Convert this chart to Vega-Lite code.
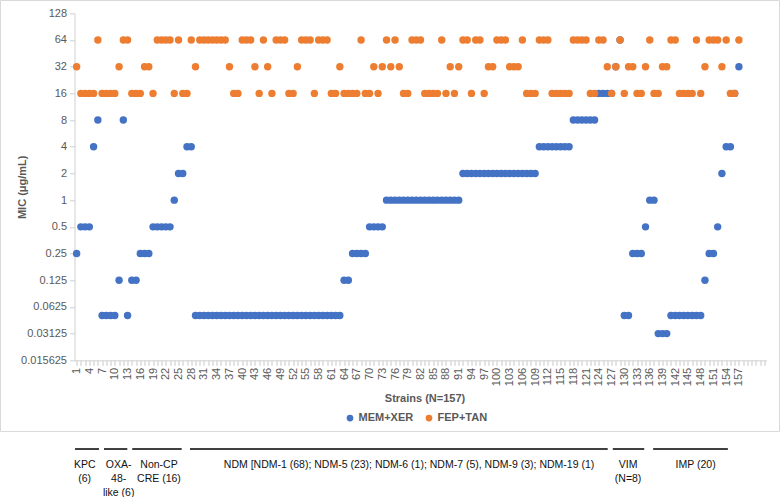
{
  "$schema": "https://vega.github.io/schema/vega-lite/v6.json",
  "width": 692,
  "height": 347,
  "autosize": {"type": "none"},
  "padding": {"left": 74.5, "top": 13.3, "right": 14.5, "bottom": 136.7},
  "background": "white",
  "config": {"view": {"stroke": null}, "font": "Liberation Sans"},
  "datasets": {
    "mic": [
      {"strain":1,"MEM+XER":0.25,"FEP+TAN":32},{"strain":2,"MEM+XER":0.5,"FEP+TAN":16},{"strain":3,"MEM+XER":0.5,"FEP+TAN":16},{"strain":4,"MEM+XER":0.5,"FEP+TAN":16},{"strain":5,"MEM+XER":4,"FEP+TAN":16},{"strain":6,"MEM+XER":8,"FEP+TAN":64},
      {"strain":7,"MEM+XER":0.05,"FEP+TAN":16},{"strain":8,"MEM+XER":0.05,"FEP+TAN":16},{"strain":9,"MEM+XER":0.05,"FEP+TAN":16},{"strain":10,"MEM+XER":0.05,"FEP+TAN":16},{"strain":11,"MEM+XER":0.125,"FEP+TAN":32},{"strain":12,"MEM+XER":8,"FEP+TAN":64},
      {"strain":13,"MEM+XER":0.05,"FEP+TAN":64},{"strain":14,"MEM+XER":0.125,"FEP+TAN":16},{"strain":15,"MEM+XER":0.125,"FEP+TAN":16},{"strain":16,"MEM+XER":0.25,"FEP+TAN":16},{"strain":17,"MEM+XER":0.25,"FEP+TAN":32},{"strain":18,"MEM+XER":0.25,"FEP+TAN":32},
      {"strain":19,"MEM+XER":0.5,"FEP+TAN":16},{"strain":20,"MEM+XER":0.5,"FEP+TAN":64},{"strain":21,"MEM+XER":0.5,"FEP+TAN":64},{"strain":22,"MEM+XER":0.5,"FEP+TAN":64},{"strain":23,"MEM+XER":0.5,"FEP+TAN":64},{"strain":24,"MEM+XER":1,"FEP+TAN":16},
      {"strain":25,"MEM+XER":2,"FEP+TAN":64},{"strain":26,"MEM+XER":2,"FEP+TAN":16},{"strain":27,"MEM+XER":4,"FEP+TAN":16},{"strain":28,"MEM+XER":4,"FEP+TAN":64},
      {"strain":29,"MEM+XER":0.05,"FEP+TAN":32},{"strain":30,"MEM+XER":0.05,"FEP+TAN":64},{"strain":31,"MEM+XER":0.05,"FEP+TAN":64},{"strain":32,"MEM+XER":0.05,"FEP+TAN":64},{"strain":33,"MEM+XER":0.05,"FEP+TAN":64},{"strain":34,"MEM+XER":0.05,"FEP+TAN":64},
      {"strain":35,"MEM+XER":0.05,"FEP+TAN":64},{"strain":36,"MEM+XER":0.05,"FEP+TAN":64},{"strain":37,"MEM+XER":0.05,"FEP+TAN":32},{"strain":38,"MEM+XER":0.05,"FEP+TAN":16},{"strain":39,"MEM+XER":0.05,"FEP+TAN":16},{"strain":40,"MEM+XER":0.05,"FEP+TAN":64},
      {"strain":41,"MEM+XER":0.05,"FEP+TAN":64},{"strain":42,"MEM+XER":0.05,"FEP+TAN":64},{"strain":43,"MEM+XER":0.05,"FEP+TAN":32},{"strain":44,"MEM+XER":0.05,"FEP+TAN":16},{"strain":45,"MEM+XER":0.05,"FEP+TAN":64},{"strain":46,"MEM+XER":0.05,"FEP+TAN":32},
      {"strain":47,"MEM+XER":0.05,"FEP+TAN":16},{"strain":48,"MEM+XER":0.05,"FEP+TAN":64},{"strain":49,"MEM+XER":0.05,"FEP+TAN":64},{"strain":50,"MEM+XER":0.05,"FEP+TAN":64},{"strain":51,"MEM+XER":0.05,"FEP+TAN":16},{"strain":52,"MEM+XER":0.05,"FEP+TAN":16},
      {"strain":53,"MEM+XER":0.05,"FEP+TAN":32},{"strain":54,"MEM+XER":0.05,"FEP+TAN":64},{"strain":55,"MEM+XER":0.05,"FEP+TAN":64},{"strain":56,"MEM+XER":0.05,"FEP+TAN":64},{"strain":57,"MEM+XER":0.05,"FEP+TAN":16},{"strain":58,"MEM+XER":0.05,"FEP+TAN":64},
      {"strain":59,"MEM+XER":0.05,"FEP+TAN":64},{"strain":60,"MEM+XER":0.05,"FEP+TAN":64},{"strain":61,"MEM+XER":0.05,"FEP+TAN":16},{"strain":62,"MEM+XER":0.05,"FEP+TAN":16},{"strain":63,"MEM+XER":0.05,"FEP+TAN":32},{"strain":64,"MEM+XER":0.125,"FEP+TAN":16},
      {"strain":65,"MEM+XER":0.125,"FEP+TAN":16},{"strain":66,"MEM+XER":0.25,"FEP+TAN":16},{"strain":67,"MEM+XER":0.25,"FEP+TAN":16},{"strain":68,"MEM+XER":0.25,"FEP+TAN":64},{"strain":69,"MEM+XER":0.25,"FEP+TAN":16},{"strain":70,"MEM+XER":0.5,"FEP+TAN":16},
      {"strain":71,"MEM+XER":0.5,"FEP+TAN":32},{"strain":72,"MEM+XER":0.5,"FEP+TAN":16},{"strain":73,"MEM+XER":0.5,"FEP+TAN":32},{"strain":74,"MEM+XER":1,"FEP+TAN":64},{"strain":75,"MEM+XER":1,"FEP+TAN":32},{"strain":76,"MEM+XER":1,"FEP+TAN":64},
      {"strain":77,"MEM+XER":1,"FEP+TAN":32},{"strain":78,"MEM+XER":1,"FEP+TAN":16},{"strain":79,"MEM+XER":1,"FEP+TAN":16},{"strain":80,"MEM+XER":1,"FEP+TAN":64},{"strain":81,"MEM+XER":1,"FEP+TAN":64},{"strain":82,"MEM+XER":1,"FEP+TAN":64},
      {"strain":83,"MEM+XER":1,"FEP+TAN":16},{"strain":84,"MEM+XER":1,"FEP+TAN":16},{"strain":85,"MEM+XER":1,"FEP+TAN":16},{"strain":86,"MEM+XER":1,"FEP+TAN":16},{"strain":87,"MEM+XER":1,"FEP+TAN":64},{"strain":88,"MEM+XER":1,"FEP+TAN":16},
      {"strain":89,"MEM+XER":1,"FEP+TAN":32},{"strain":90,"MEM+XER":1,"FEP+TAN":16},{"strain":91,"MEM+XER":1,"FEP+TAN":32},{"strain":92,"MEM+XER":2,"FEP+TAN":64},{"strain":93,"MEM+XER":2,"FEP+TAN":64},{"strain":94,"MEM+XER":2,"FEP+TAN":16},
      {"strain":95,"MEM+XER":2,"FEP+TAN":64},{"strain":96,"MEM+XER":2,"FEP+TAN":64},{"strain":97,"MEM+XER":2,"FEP+TAN":16},{"strain":98,"MEM+XER":2,"FEP+TAN":32},{"strain":99,"MEM+XER":2,"FEP+TAN":32},{"strain":100,"MEM+XER":2,"FEP+TAN":64},
      {"strain":101,"MEM+XER":2,"FEP+TAN":64},{"strain":102,"MEM+XER":2,"FEP+TAN":64},{"strain":103,"MEM+XER":2,"FEP+TAN":32},{"strain":104,"MEM+XER":2,"FEP+TAN":32},{"strain":105,"MEM+XER":2,"FEP+TAN":32},{"strain":106,"MEM+XER":2,"FEP+TAN":64},
      {"strain":107,"MEM+XER":2,"FEP+TAN":16},{"strain":108,"MEM+XER":2,"FEP+TAN":16},{"strain":109,"MEM+XER":2,"FEP+TAN":16},{"strain":110,"MEM+XER":4,"FEP+TAN":64},{"strain":111,"MEM+XER":4,"FEP+TAN":64},{"strain":112,"MEM+XER":4,"FEP+TAN":64},
      {"strain":113,"MEM+XER":4,"FEP+TAN":16},{"strain":114,"MEM+XER":4,"FEP+TAN":16},{"strain":115,"MEM+XER":4,"FEP+TAN":16},{"strain":116,"MEM+XER":4,"FEP+TAN":16},{"strain":117,"MEM+XER":4,"FEP+TAN":16},{"strain":118,"MEM+XER":8,"FEP+TAN":64},
      {"strain":119,"MEM+XER":8,"FEP+TAN":64},{"strain":120,"MEM+XER":8,"FEP+TAN":64},{"strain":121,"MEM+XER":8,"FEP+TAN":64},{"strain":122,"MEM+XER":8,"FEP+TAN":16},{"strain":123,"MEM+XER":8,"FEP+TAN":16},{"strain":124,"MEM+XER":16,"FEP+TAN":64},
      {"strain":125,"MEM+XER":16,"FEP+TAN":64},{"strain":126,"MEM+XER":16,"FEP+TAN":32},{"strain":127,"MEM+XER":16,"FEP+TAN":16},{"strain":128,"MEM+XER":32,"FEP+TAN":32},{"strain":129,"MEM+XER":64,"FEP+TAN":64},
      {"strain":130,"MEM+XER":0.05,"FEP+TAN":16},{"strain":131,"MEM+XER":0.05,"FEP+TAN":32},{"strain":132,"MEM+XER":0.25,"FEP+TAN":32},{"strain":133,"MEM+XER":0.25,"FEP+TAN":16},{"strain":134,"MEM+XER":0.25,"FEP+TAN":16},{"strain":135,"MEM+XER":0.5,"FEP+TAN":32},
      {"strain":136,"MEM+XER":1,"FEP+TAN":64},{"strain":137,"MEM+XER":1,"FEP+TAN":16},
      {"strain":138,"MEM+XER":0.03125,"FEP+TAN":16},{"strain":139,"MEM+XER":0.03125,"FEP+TAN":32},{"strain":140,"MEM+XER":0.03125,"FEP+TAN":32},{"strain":141,"MEM+XER":0.05,"FEP+TAN":64},{"strain":142,"MEM+XER":0.05,"FEP+TAN":64},{"strain":143,"MEM+XER":0.05,"FEP+TAN":16},
      {"strain":144,"MEM+XER":0.05,"FEP+TAN":16},{"strain":145,"MEM+XER":0.05,"FEP+TAN":16},{"strain":146,"MEM+XER":0.05,"FEP+TAN":16},{"strain":147,"MEM+XER":0.05,"FEP+TAN":64},{"strain":148,"MEM+XER":0.05,"FEP+TAN":16},{"strain":149,"MEM+XER":0.125,"FEP+TAN":32},
      {"strain":150,"MEM+XER":0.25,"FEP+TAN":64},{"strain":151,"MEM+XER":0.25,"FEP+TAN":64},{"strain":152,"MEM+XER":0.5,"FEP+TAN":64},{"strain":153,"MEM+XER":2,"FEP+TAN":32},{"strain":154,"MEM+XER":4,"FEP+TAN":64},{"strain":155,"MEM+XER":4,"FEP+TAN":16},
      {"strain":156,"MEM+XER":16,"FEP+TAN":16},{"strain":157,"MEM+XER":32,"FEP+TAN":64}
    ],
    "groups": [
      {"group":"KPC\n(6)","start":0.62,"end":6.27,"mid":2.9},
      {"group":"OXA-\n48-\nlike (6)","start":7.45,"end":12.94,"mid":10.9},
      {"group":"Non-CP\nCRE (16)","start":14.1,"end":25.75,"mid":20.4},
      {"group":"NDM [NDM-1 (68); NDM-5 (23); NDM-6 (1); NDM-7 (5), NDM-9 (3); NDM-19 (1)","start":27.7,"end":126.1,"mid":79.3},
      {"group":"VIM\n(N=8)","start":127.3,"end":134.7,"mid":130.9},
      {"group":"IMP (20)","start":136.8,"end":154.4,"mid":146.8}
    ]
  },
  "layer": [
    {
      "data": {"values": [{"frame": "chart area"}]},
      "mark": {"type": "rect", "filled": false, "color": "#D9D9D9", "strokeWidth": 1},
      "encoding": {
        "x": {"datum": -16.93, "type": "quantitative", "scale": {"domain": [0.5, 163.5], "zero": false, "nice": false}},
        "x2": {"datum": 166.56},
        "y": {"datum": 178.5, "type": "quantitative", "scale": {"type": "log", "base": 2, "domain": [0.015625, 128], "nice": false}},
        "y2": {"datum": 0.002457}
      }
    },
    {
      "data": {"name": "mic"},
      "transform": [{"fold": ["MEM+XER", "FEP+TAN"], "as": ["Combination", "MIC"]}],
      "mark": {"type": "circle", "size": 55, "opacity": 1},
      "encoding": {
        "x": {
          "field": "strain", "type": "quantitative",
          "scale": {"domain": [0.5, 163.5], "zero": false, "nice": false},
          "axis": {
            "values": [1,2,3,4,5,6,7,8,9,10,11,12,13,14,15,16,17,18,19,20,21,22,23,24,25,26,27,28,29,30,31,32,33,34,35,36,37,38,39,40,41,42,43,44,45,46,47,48,49,50,51,52,53,54,55,56,57,58,59,60,61,62,63,64,65,66,67,68,69,70,71,72,73,74,75,76,77,78,79,80,81,82,83,84,85,86,87,88,89,90,91,92,93,94,95,96,97,98,99,100,101,102,103,104,105,106,107,108,109,110,111,112,113,114,115,116,117,118,119,120,121,122,123,124,125,126,127,128,129,130,131,132,133,134,135,136,137,138,139,140,141,142,143,144,145,146,147,148,149,150,151,152,153,154,155,156,157,158,159,160,161,162,163],
            "tickCount": 1000,
            "labelExpr": "((datum.value - 1) % 3 == 0 && datum.value <= 157) ? '' + datum.value : ''",
            "labelAngle": -90,
            "labelOverlap": false,
            "labelSeparation": -10,
            "labelFlush": false,
            "labelFontSize": 11,
            "labelColor": "#595959",
            "labelPadding": 2,
            "tickSize": 5,
            "tickColor": "#C8C8C8",
            "domainColor": "#D0D0D0",
            "grid": false,
            "title": "Strains (N=157)",
            "titleFontSize": 11,
            "titleFontWeight": "bold",
            "titleColor": "#595959",
            "titleX": 350,
            "titleY": 38,
            "titleBaseline": "middle"
          }
        },
        "y": {
          "field": "MIC", "type": "quantitative",
          "scale": {"type": "log", "base": 2, "domain": [0.015625, 128], "nice": false},
          "axis": {
            "values": [128, 64, 32, 16, 8, 4, 2, 1, 0.5, 0.25, 0.125, 0.0625, 0.03125, 0.015625],
            "tickCount": 100,
            "labelExpr": "'' + datum.value",
            "labelOverlap": false,
            "labelFlush": false,
            "labelFontSize": 11,
            "labelColor": "#595959",
            "labelPadding": 3,
            "tickSize": 5,
            "tickColor": "#D0D0D0",
            "domainColor": "#D0D0D0",
            "grid": false,
            "title": "MIC (μg/mL)",
            "titleFontSize": 11,
            "titleFontWeight": "bold",
            "titleColor": "#595959",
            "titleX": -52.5,
            "titleY": 173.5,
            "titleBaseline": "middle",
            "titleAlign": "center",
            "titleAngle": -90
          }
        },
        "color": {
          "field": "Combination", "type": "nominal",
          "scale": {"domain": ["MEM+XER", "FEP+TAN"], "range": ["#4472C4", "#ED7D31"]},
          "legend": {
            "title": null,
            "orient": "none",
            "legendX": 270,
            "legendY": 399,
            "direction": "horizontal",
            "symbolType": "circle",
            "symbolSize": 45,
            "symbolStrokeWidth": 0,
            "labelFontSize": 11,
            "labelFontWeight": "bold",
            "labelColor": "#595959",
            "labelOffset": 3,
            "columnPadding": 10
          }
        },
        "order": {"field": "Combination", "sort": "descending"}
      }
    },
    {
      "data": {"name": "groups"},
      "mark": {"type": "rule", "color": "#000000", "strokeWidth": 1.5},
      "encoding": {
        "x": {"field": "start", "type": "quantitative", "scale": {"domain": [0.5, 163.5], "zero": false, "nice": false}},
        "x2": {"field": "end"},
        "y": {"datum": 0.001561, "type": "quantitative", "scale": {"type": "log", "base": 2, "domain": [0.015625, 128], "nice": false}}
      }
    },
    {
      "data": {"name": "groups"},
      "mark": {"type": "text", "align": "center", "baseline": "top", "lineBreak": "\n", "lineHeight": 14, "fontSize": 10.5, "font": "Liberation Sans", "color": "#111111"},
      "encoding": {
        "x": {"field": "mid", "type": "quantitative", "scale": {"domain": [0.5, 163.5], "zero": false, "nice": false}},
        "y": {"datum": 0.0011871, "type": "quantitative", "scale": {"type": "log", "base": 2, "domain": [0.015625, 128], "nice": false}},
        "text": {"field": "group", "type": "nominal"}
      }
    }
  ]
}
